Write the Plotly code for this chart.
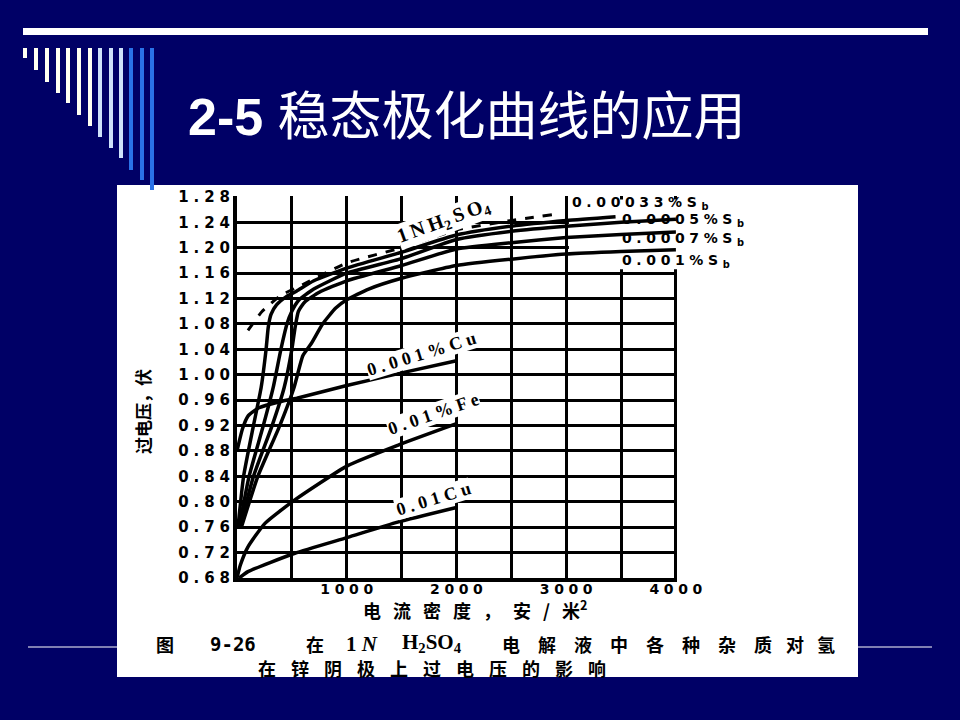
import plotly.graph_objects as go

# ---------------- data: current density (A/m^2) vs overvoltage (V) ----------------
h2so4_x = [100, 230, 400, 600, 1000, 1500, 2000, 2500, 2870]
h2so4_y = [1.07, 1.10, 1.125, 1.142, 1.176, 1.200, 1.228, 1.243, 1.252]

sb00033_x = [9, 60, 150, 220, 265, 285, 310, 360, 450, 545, 700, 1000, 1500, 2000, 2500, 3000, 3450]
sb00033_y = [0.76, 0.84, 0.92, 0.98, 1.04, 1.075, 1.095, 1.11, 1.123, 1.132, 1.148, 1.168, 1.193, 1.220, 1.234, 1.243, 1.249]

sb0005_x = [20, 110, 240, 330, 400, 455, 500, 560, 700, 1000, 1500, 2000, 2500, 3000, 3500, 4000]
sb0005_y = [0.76, 0.84, 0.92, 0.98, 1.04, 1.08, 1.10, 1.117, 1.135, 1.160, 1.183, 1.213, 1.226, 1.234, 1.240, 1.245]

sb0007_x = [30, 150, 320, 430, 500, 530, 560, 620, 750, 1000, 1500, 2000, 2500, 3000, 3500, 4000]
sb0007_y = [0.76, 0.84, 0.92, 0.98, 1.04, 1.075, 1.10, 1.115, 1.13, 1.148, 1.172, 1.198, 1.208, 1.216, 1.221, 1.225]

sb001_x = [40, 190, 390, 520, 600, 680, 780, 900, 1000, 1200, 1500, 2000, 2500, 3000, 3500, 4000]
sb001_y = [0.76, 0.84, 0.92, 0.98, 1.03, 1.05, 1.08, 1.105, 1.118, 1.135, 1.152, 1.172, 1.182, 1.190, 1.194, 1.197]

cu0001_x = [0, 50, 100, 200, 400, 545, 1000, 1500, 2000]
cu0001_y = [0.88, 0.915, 0.935, 0.948, 0.958, 0.963, 0.983, 1.003, 1.022]

fe001_x = [0, 30, 100, 255, 527, 1009, 1464, 2000]
fe001_y = [0.68, 0.70, 0.729, 0.766, 0.803, 0.857, 0.889, 0.923]

cu001_x = [20, 100, 527, 1009, 1464, 2000]
cu001_y = [0.68, 0.69, 0.719, 0.744, 0.768, 0.791]

y_tick_vals = [0.68, 0.72, 0.76, 0.80, 0.84, 0.88, 0.92, 0.96, 1.00, 1.04, 1.08, 1.12, 1.16, 1.20, 1.24, 1.28]
y_tick_labels = ["0.68", "0.72", "0.76", "0.80", "0.84", "0.88", "0.92", "0.96", "1.00", "1.04",
                 "1.08", "1.12", "1.16", "1.20", "1.24", "1.28"]
x_tick_vals = [1000, 2000, 3000, 4000]
x_tick_labels = ["1000", "2000", "3000", "4000"]
x_minor_grid = [500, 1500, 2500, 3500]

# ---------------- layout geometry (pixels of the 960x720 page) ----------------
W, H = 960, 720
L, R, T, B = 237, 677, 196, 578


def px(x):
    return (x - L) / (R - L)


def py(y):
    return (B - y) / (B - T)


def sp(s, sep="\u2004"):
    return sep.join(s)


NAVY = "#000066"
SANS_B = "DejaVu Sans"
SERIF = "Liberation Serif"
CJK = "Noto Sans CJK SC"

fig = go.Figure()

solid = dict(color="black", width=3.5, shape="spline", smoothing=0.5)
for xs, ys in [(sb00033_x, sb00033_y), (sb0005_x, sb0005_y), (sb0007_x, sb0007_y),
               (sb001_x, sb001_y), (cu0001_x, cu0001_y), (fe001_x, fe001_y), (cu001_x, cu001_y)]:
    fig.add_trace(go.Scatter(x=xs, y=ys, mode="lines", line=solid, hoverinfo="skip", showlegend=False))
fig.add_trace(go.Scatter(x=h2so4_x, y=h2so4_y, mode="lines",
                         line=dict(color="black", width=3, dash="dash", shape="spline", smoothing=0.5),
                         hoverinfo="skip", showlegend=False))

shapes = []
# thin horizontal slide line (behind the picture)
shapes.append(dict(type="line", xref="paper", yref="paper", x0=px(28), x1=px(932), y0=py(647), y1=py(647),
                   line=dict(color="white", width=1), layer="below"))
# white scanned picture area
shapes.append(dict(type="rect", xref="paper", yref="paper", x0=px(117), x1=px(858), y0=py(677), y1=py(185),
                   fillcolor="white", line=dict(width=0), layer="below"))
# top bar
shapes.append(dict(type="rect", xref="paper", yref="paper", x0=px(23), x1=px(928), y0=py(35), y1=py(28),
                   fillcolor="white", line=dict(width=0), layer="below"))
# decorative stripes
stripe_x = [25, 36, 47, 58, 68, 79, 90, 100, 111, 121, 131, 142, 152]
stripe_bottom = [58, 70, 82, 93, 103, 115, 126, 137, 148, 158, 170, 180, 190]
stripe_col = ["#FFFFF2"] * 7 + ["#CFE2FA"] * 3 + ["#2A72E8"] * 3
for sx, sb, sc in zip(stripe_x, stripe_bottom, stripe_col):
    shapes.append(dict(type="rect", xref="paper", yref="paper", x0=px(sx - 2), x1=px(sx + 2),
                       y0=py(sb), y1=py(48), fillcolor=sc, line=dict(width=0), layer="below"))
# blank region under the Sb labels (no grid there in the original)
shapes.append(dict(type="rect", xref="x", yref="y", x0=3025, x1=4100, y0=1.166, y1=1.276,
                   fillcolor="white", line=dict(width=0), layer="between"))

ann = []


def A(x, y, text, font, xanchor="center", yanchor="middle", **kw):
    d = dict(xref="paper", yref="paper", x=px(x), y=py(y), xanchor=xanchor, yanchor=yanchor,
             text=text, showarrow=False, font=font)
    d.update(kw)
    ann.append(d)


# title
A(186, 117, "<b>2-5</b> 稳态极化曲线的应用",
  dict(family="Liberation Sans, " + CJK, size=52, color="white"), xanchor="left")

# Sb labels
lab_font = dict(family=SANS_B, size=14, color="black", weight="bold")
sb_labels = [("0.00033%S", 570, 203), ("0.0005%S", 620, 220), ("0.0007%S", 620, 239), ("0.001%S", 620, 261)]
for t, x0, y0 in sb_labels:
    A(x0, y0, sp(t) + "\u2004<sub>b</sub>", lab_font, xanchor="left")

# rotated curve labels
rot_font = dict(family=SERIF, size=18, color="black", weight="bold")
rot_labels = [("1\u2009N\u2009H<sub>2</sub>\u2009S\u2009O<sub>4</sub>", 443, 221, -20, 20),
              (sp("0.001%Cu", " "), 421, 354, -17, 18),
              (sp("0.01%Fe", " "), 433, 414, -19, 18),
              (sp("0.01Cu", " "), 433, 499, -17, 18)]
for t, x0, y0, a, fs in rot_labels:
    A(x0, y0, t, dict(rot_font, size=fs), textangle=a, bgcolor="white", borderpad=0)

# axis titles
cjk_b = dict(family=CJK, color="black", weight="bold")
A(142, 412, "过电压，伏", dict(cjk_b, size=17), textangle=-90)
A(475, 609, sp("电流密度，安/米", "\u2002\u2006") + "<sup>2</sup>", dict(cjk_b, size=18))

# caption line 1
c1 = 644
A(165, c1, "图", dict(cjk_b, size=18))
A(233, c1, "9-26", dict(family="DejaVu Sans Mono", size=19, color="black", weight="bold"))
A(315, c1, "在", dict(cjk_b, size=18))
A(362, c1, "1 <i>N</i>", dict(family=SERIF, size=21, color="black", weight="bold"))
A(432, c1 - 1, "H<sub>2</sub>SO<sub>4</sub>", dict(family=SERIF, size=21, color="black", weight="bold"))
A(637, c1, sp("电解液中各种杂质", "\u2002\u2002"), dict(cjk_b, size=18))
A(795, c1, "对", dict(cjk_b, size=18))
A(826, c1, "氢", dict(cjk_b, size=18))
# caption line 2
A(432, 668, sp("在锌阴极上过电压的影响", "\u2002\u2004"), dict(cjk_b, size=18))

fig.update_layout(
    width=W, height=H,
    margin=dict(l=L, r=W - R, t=T, b=H - B, pad=0),
    paper_bgcolor=NAVY, plot_bgcolor="white",
    shapes=shapes, annotations=ann, showlegend=False,
)
tick_font = dict(family=SANS_B, size=15, color="black", weight="bold")
fig.update_xaxes(range=[0, 4010], tickmode="array", tickvals=x_tick_vals,
                 ticktext=[sp(t) for t in x_tick_labels], ticklabelstandoff=-5,
                 showgrid=True, gridcolor="black", gridwidth=2.5, zeroline=False,
                 minor=dict(tickmode="array", tickvals=x_minor_grid, showgrid=True,
                            gridcolor="black", gridwidth=2.5, ticks=""),
                 showline=True, linecolor="black", linewidth=3.5, ticks="",
                 tickfont=dict(tick_font, size=14))
fig.update_yaxes(range=[0.68, 1.2815], tickmode="array", tickvals=y_tick_vals,
                 ticktext=[sp(t) for t in y_tick_labels],
                 showgrid=True, gridcolor="black", gridwidth=2.5, zeroline=False,
                 showline=True, linecolor="black", linewidth=4, ticks="", tickfont=tick_font)

fig.write_html("out.html", config={"displayModeBar": False},
               post_script="document.body.style.margin='0';document.body.style.background='%s';" % NAVY)
